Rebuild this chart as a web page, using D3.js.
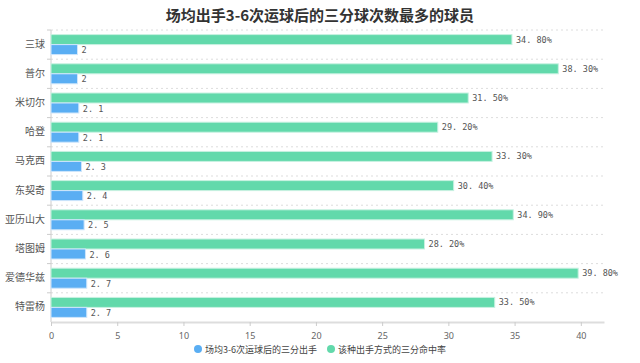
<!DOCTYPE html>
<html>
<head>
<meta charset="utf-8">
<script src="https://cdn.jsdelivr.net/npm/d3@7"></script>
<style>
  body { margin: 0; background: #fff; font-family: "Noto Sans CJK SC", "Noto Sans", sans-serif; }
</style>
</head>
<body>
<div id="chart"></div>
<script>
const players = ['三球', '普尔', '米切尔', '哈登', '马克西', '东契奇', '亚历山大', '塔图姆', '爱德华兹', '特雷杨'];
const attempts = [2, 2, 2.1, 2.1, 2.3, 2.4, 2.5, 2.6, 2.7, 2.7];
const hitRate = [34.8, 38.3, 31.5, 29.2, 33.3, 30.4, 34.9, 28.2, 39.8, 33.5];
const xTicks = [0, 5, 10, 15, 20, 25, 30, 35, 40];
const seriesNames = ['场均3-6次运球后的三分出手', '该种出手方式的三分命中率'];

const W = 640, H = 363;
const margin = { top: 30, right: 36, bottom: 41, left: 51 };
const width = W - margin.left - margin.right;
const height = H - margin.top - margin.bottom;
const blue = '#5aaef3', green = '#62d9ab';

const svg = d3.select('#chart').append('svg')
    .attr('width', W).attr('height', H);

svg.append('text')
    .attr('x', W / 2).attr('y', 21)
    .attr('text-anchor', 'middle')
    .style('font-size', '15px').style('font-weight', 'bold').style('fill', '#333')
    .text('场均出手3-6次运球后的三分球次数最多的球员');

const g = svg.append('g').attr('transform', `translate(${margin.left},${margin.top})`);

const x = d3.scaleLinear().domain([0, 41.75]).range([0, width]);
const y = d3.scaleBand().domain(players).range([0, height]);

// dashed grid lines at band boundaries
g.selectAll('.grid')
    .data(players)
    .enter().append('line')
    .attr('x1', 0).attr('x2', width)
    .attr('y1', d => y(d)).attr('y2', d => y(d))
    .attr('stroke', '#ddd').attr('stroke-dasharray', '2,3');

// left axis line and ticks
g.append('line').attr('x1', 0).attr('x2', 0).attr('y1', 0).attr('y2', height)
    .attr('stroke', '#ccc');
g.selectAll('.ltick').data(players).enter().append('line')
    .attr('x1', -4).attr('x2', 0)
    .attr('y1', d => y(d)).attr('y2', d => y(d))
    .attr('stroke', '#ccc');

g.selectAll('.cat').data(players).enter().append('text')
    .attr('x', -6).attr('y', d => y(d) + y.bandwidth() / 2 + 3)
    .attr('text-anchor', 'end')
    .style('font-size', '10px').style('fill', '#555')
    .text(d => d);

const barH = 10;
const mid = d => y(d) + y.bandwidth() / 2;

// green bars (hit rate)
g.selectAll('.gbar').data(players).enter().append('rect')
    .attr('x', 0).attr('y', d => mid(d) - barH)
    .attr('width', (d, i) => x(hitRate[i])).attr('height', barH)
    .attr('fill', green).attr('stroke', '#c8f1e1').attr('stroke-width', 1);

// blue bars (attempts)
g.selectAll('.bbar').data(players).enter().append('rect')
    .attr('x', 0).attr('y', d => mid(d))
    .attr('width', (d, i) => x(attempts[i])).attr('height', barH)
    .attr('fill', blue).attr('stroke', '#cfe6fb').attr('stroke-width', 1);

g.selectAll('.glab').data(players).enter().append('text')
    .attr('x', (d, i) => x(hitRate[i]) + 4).attr('y', d => mid(d) - 2)
    .style('font-family', '"DejaVu Sans Mono", monospace')
    .style('font-size', '8.5px').style('fill', '#555')
    .text((d, i) => hitRate[i].toFixed(2).replace('.', '. ') + '%');

g.selectAll('.blab').data(players).enter().append('text')
    .attr('x', (d, i) => x(attempts[i]) + 4).attr('y', d => mid(d) + 8.5)
    .style('font-family', '"DejaVu Sans Mono", monospace')
    .style('font-size', '8.5px').style('fill', '#555')
    .text((d, i) => String(attempts[i]).replace('.', '. '));

// bottom axis
const xAxis = g.append('g')
    .attr('transform', `translate(0,${height})`)
    .call(d3.axisBottom(x).tickValues(xTicks).tickSize(4).tickSizeOuter(0));
xAxis.select('.domain').attr('stroke', '#ddd').attr('stroke-width', 2);
xAxis.selectAll('.tick line').attr('stroke', '#ccc');
xAxis.selectAll('.tick text')
    .attr('dy', '1.1em')
    .style('font-size', '9px').style('fill', '#666')
    .style('font-family', '"Noto Sans", sans-serif');

// legend
const legend = svg.append('g').attr('transform', `translate(0, 349)`);
const legendX = [198, 331];
[blue, green].forEach((c, i) => {
    legend.append('circle').attr('cx', legendX[i]).attr('cy', 0).attr('r', 4).attr('fill', c);
    legend.append('text')
        .attr('x', legendX[i] + 7).attr('y', 3.5)
        .style('font-size', '9px').style('fill', '#444')
        .text(seriesNames[i]);
});
</script>
</body>
</html>
